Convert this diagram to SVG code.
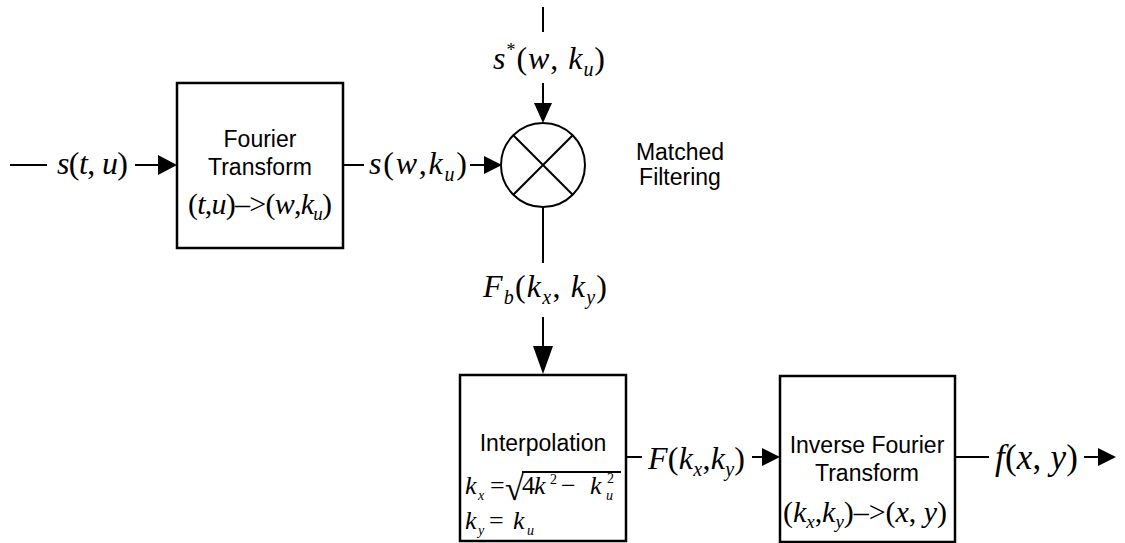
<svg xmlns="http://www.w3.org/2000/svg" width="1125" height="543" viewBox="0 0 1125 543">
  <defs>
    <style>
      .box { fill: #fff; stroke: #000; stroke-width: 2.5; }
      .wire { fill: none; stroke: #000; stroke-width: 2; }
      .head { fill: #000; stroke: none; }
      .lbl { font-family: "Liberation Sans", Arial, sans-serif; font-size: 23px; fill: #000; text-anchor: middle; }
      .m { font-family: "Liberation Serif", "Times New Roman", serif; font-size: 32px; fill: #000; }
      .i { font-style: italic; }
      .f { font-family: "Liberation Serif", "Times New Roman", serif; font-size: 26px; fill: #000; }
      .s { font-size: 14px; }
    </style>
  </defs>

  <!-- connectors -->
  <g id="connectors">
    <!-- input into Fourier Transform -->
    <line class="wire" x1="10" y1="165" x2="47" y2="165"/>
    <line class="wire" x1="135" y1="165" x2="160" y2="165"/>
    <polygon class="head" points="177,165 158,155 158,175"/>
    <!-- Fourier Transform to mixer -->
    <line class="wire" x1="343" y1="165" x2="364" y2="165"/>
    <line class="wire" x1="470" y1="165" x2="486" y2="165"/>
    <polygon class="head" points="502,165 484,156 484,174"/>
    <!-- reference signal into mixer -->
    <line class="wire" x1="543" y1="7" x2="543" y2="32"/>
    <line class="wire" x1="543" y1="83" x2="543" y2="106"/>
    <polygon class="head" points="543,123 534,103 552,103"/>
    <!-- mixer to interpolation -->
    <line class="wire" x1="543" y1="207" x2="543" y2="263"/>
    <line class="wire" x1="543" y1="317" x2="543" y2="350"/>
    <polygon class="head" points="543,374 533,346 553,346"/>
    <!-- interpolation to inverse transform -->
    <line class="wire" x1="626" y1="457" x2="642" y2="457"/>
    <line class="wire" x1="752" y1="457" x2="765" y2="457"/>
    <polygon class="head" points="780,457 762,448 762,466"/>
    <!-- output -->
    <line class="wire" x1="955" y1="457" x2="989" y2="457"/>
    <line class="wire" x1="1084" y1="457" x2="1100" y2="457"/>
    <polygon class="head" points="1116,457 1098,448 1098,466"/>
  </g>

  <!-- signal labels on connectors -->
  <g id="signals">
    <text class="m" x="57" y="174" textLength="71"><tspan class="i">s</tspan>(<tspan class="i">t</tspan>, <tspan class="i">u</tspan>)</text>
    <text class="m" x="369" y="174" textLength="98"><tspan class="i">s</tspan>(<tspan class="i">w</tspan>,<tspan class="i">k</tspan><tspan class="i" style="font-size:20px" dy="7">u</tspan><tspan dy="-7">)</tspan></text>
    <text class="m" x="493" y="69" textLength="112"><tspan class="i">s</tspan><tspan style="font-size:18px" dy="-13">*</tspan><tspan dy="13">(</tspan><tspan class="i">w</tspan>, <tspan class="i">k</tspan><tspan class="i" style="font-size:20px" dy="7">u</tspan><tspan dy="-7">)</tspan></text>
    <text class="m" x="483" y="297" textLength="124"><tspan class="i">F</tspan><tspan class="i" style="font-size:20px" dy="7">b</tspan><tspan dy="-7">(</tspan><tspan class="i">k</tspan><tspan class="i" style="font-size:20px" dy="7">x</tspan><tspan dy="-7">, </tspan><tspan class="i">k</tspan><tspan class="i" style="font-size:20px" dy="7">y</tspan><tspan dy="-7">)</tspan></text>
    <text class="m" x="648" y="469" textLength="97"><tspan class="i">F</tspan>(<tspan class="i">k</tspan><tspan class="i" style="font-size:20px" dy="7">x</tspan><tspan dy="-7">,</tspan><tspan class="i">k</tspan><tspan class="i" style="font-size:20px" dy="7">y</tspan><tspan dy="-7">)</tspan></text>
    <text class="m" x="995" y="469" style="font-size:35px" textLength="83"><tspan class="i">f</tspan>(<tspan class="i">x</tspan>, <tspan class="i">y</tspan>)</text>
  </g>

  <!-- Fourier Transform block -->
  <g id="fourier-transform">
    <rect class="box" x="177" y="83" width="166" height="165"/>
    <text class="lbl" x="260" y="147">Fourier</text>
    <text class="lbl" x="260" y="175">Transform</text>
    <text class="m" x="188" y="214" style="font-size:30px" textLength="144">(<tspan class="i">t</tspan>,<tspan class="i">u</tspan>)–&gt;(<tspan class="i">w</tspan>,<tspan class="i">k</tspan><tspan class="i" style="font-size:19px" dy="6">u</tspan><tspan dy="-6">)</tspan></text>
  </g>

  <!-- Matched filtering mixer -->
  <g id="matched-filter">
    <circle class="wire" cx="543" cy="165" r="42"/>
    <line class="wire" x1="513.3" y1="135.3" x2="572.7" y2="194.7"/>
    <line class="wire" x1="572.7" y1="135.3" x2="513.3" y2="194.7"/>
    <text class="lbl" x="680" y="160">Matched</text>
    <text class="lbl" x="680" y="185">Filtering</text>
  </g>

  <!-- Interpolation block -->
  <g id="interpolation">
    <rect class="box" x="460" y="375" width="166" height="166"/>
    <text class="lbl" x="543" y="451">Interpolation</text>
    <!-- k_x = sqrt(4k^2 - k_u^2) -->
    <text class="f i" x="465" y="494">k</text>
    <text class="f i s" x="478" y="500">x</text>
    <text class="f" x="490" y="494">=</text>
    <text class="f" x="505" y="500" style="font-size:34px">√</text>
    <line class="wire" x1="522" y1="472" x2="621" y2="472" stroke-width="1.5"/>
    <text class="f" x="522" y="494">4</text>
    <text class="f i" x="534" y="494">k</text>
    <text class="f s" x="550" y="484">2</text>
    <text class="f" x="561" y="494">−</text>
    <text class="f i" x="590" y="494">k</text>
    <text class="f i s" x="606" y="500">u</text>
    <text class="f s" x="607" y="483">2</text>
    <!-- k_y = k_u -->
    <text class="f i" x="465" y="529">k</text>
    <text class="f i s" x="478" y="535">y</text>
    <text class="f" x="489" y="529">=</text>
    <text class="f i" x="513" y="529">k</text>
    <text class="f i s" x="527" y="535">u</text>
  </g>

  <!-- Inverse Fourier Transform block -->
  <g id="inverse-fourier-transform">
    <rect class="box" x="780" y="376" width="175" height="166"/>
    <text class="lbl" x="867" y="453">Inverse Fourier</text>
    <text class="lbl" x="867" y="481">Transform</text>
    <text class="m" x="783" y="522" style="font-size:30px" textLength="164">(<tspan class="i">k</tspan><tspan class="i" style="font-size:19px" dy="6">x</tspan><tspan dy="-6">,</tspan><tspan class="i">k</tspan><tspan class="i" style="font-size:19px" dy="6">y</tspan><tspan dy="-6">)–&gt;(</tspan><tspan class="i">x</tspan>, <tspan class="i">y</tspan>)</text>
  </g>
</svg>
